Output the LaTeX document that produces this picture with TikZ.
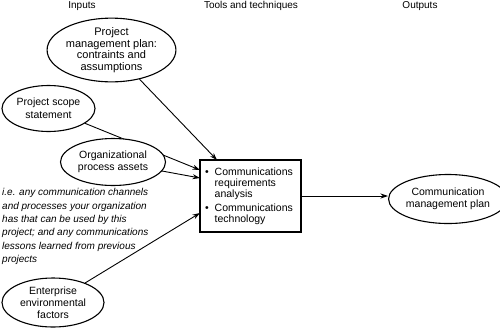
\documentclass[tikz,border=0pt]{standalone}
\usepackage{fontspec}
\setmainfont{Liberation Sans}
\usetikzlibrary{shapes.geometric,arrows.meta,backgrounds}
\begin{document}
\begin{tikzpicture}[x=1pt,y=-1pt,
  oval/.style={ellipse,draw,line width=1.1pt,fill=white,inner sep=0pt,align=center,font=\fontsize{10.5}{12}\selectfont},
  hdr/.style={font=\fontsize{10}{12}\selectfont,inner sep=0pt},
  conn/.style={line width=0.9pt,-{Stealth[length=7.5pt,width=5pt]}}]
\useasboundingbox (0,0) rectangle (500,330);
\node[hdr] (hin) at (82,6) {Inputs};
\node[hdr] (htt) at (251,6) {Tools and techniques};
\node[hdr] (hout) at (420,6) {Outputs};
\node[oval,minimum width=101pt,minimum height=58pt,font=\fontsize{11}{11.6}\selectfont] (pmp) at (111.5,50) {Project\\management plan:\\contraints and\\assumptions};
\node[oval,minimum width=93pt,minimum height=46pt,font=\fontsize{10.5}{13}\selectfont] (scope) at (48.5,108.5) {Project scope\\statement};
\node[oval,minimum width=105pt,minimum height=47pt] (opa) at (113,162) {Organizational\\process assets};
\node[oval,minimum width=102pt,minimum height=49pt] (eef) at (53,302.5) {Enterprise\\environmental\\factors};
\node[oval,minimum width=100pt,minimum height=49pt,font=\fontsize{10.5}{11.5}\selectfont] (cmp) at (448,199) {Communication\\management plan};
\node[draw,line width=1.1pt,minimum width=101pt,minimum height=72pt,inner sep=0pt] (box) at (250.5,196) {};
\node[anchor=north west,inner sep=0pt,align=left,font=\fontsize{10.5}{11}\selectfont] (boxtxt) at (205,167.5)
 {\makebox[9.5pt][l]{\textbullet}Communications\\\hspace{9.5pt}requirements\\\hspace{9.5pt}analysis\\[3pt]\makebox[9.5pt][l]{\textbullet}Communications\\\hspace{9.5pt}technology};
\node[anchor=north west,inner sep=0pt,align=left,font=\fontsize{10}{13.3}\itshape] (note) at (2,188.5)
 {i.e. any communication channels\\and processes your organization\\has that can be used by this\\project; and any communications\\lessons learned from previous\\projects};
\coordinate (t1) at (217,160);
\coordinate (l1) at (200,170);
\coordinate (l2) at (200,178);
\coordinate (l3) at (200,213);
\begin{scope}[on background layer]
\draw[conn] (scope) -- (l1);
\end{scope}
\draw[conn] (pmp) -- (t1);
\draw[conn] (opa) -- (l2);
\draw[conn] (eef) -- (l3);
\draw[conn] (box.east) -- (box.east -| cmp.west);
\end{tikzpicture}
\end{document}
